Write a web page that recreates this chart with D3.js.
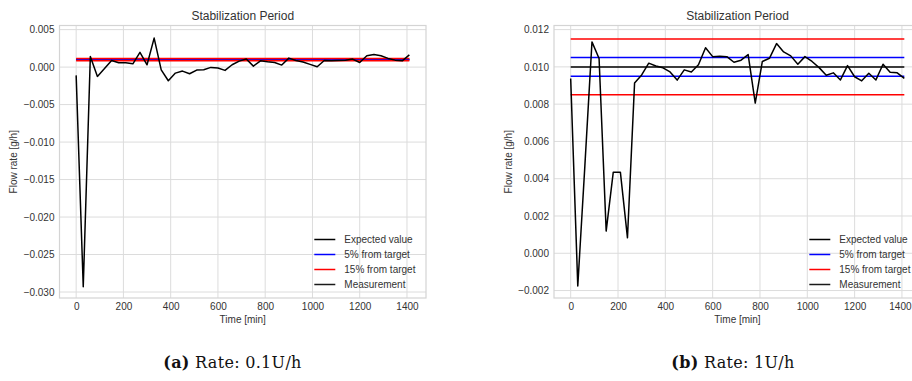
<!DOCTYPE html>
<html>
<head>
<meta charset="utf-8">
<script src="https://cdn.jsdelivr.net/npm/d3@7"></script>
<style>
  html, body { margin: 0; padding: 0; background: #ffffff; }
  svg { display: block; }
</style>
</head>
<body>
<svg id="fig" width="912" height="381"></svg>
<script>
// Sampling times (minutes), every 30 min over the stabilization run
const times = d3.range(0, 1411, 30);

// Measured flow rate [g/h] at 0.1 U/h
const measurementA = [
  -0.0011, -0.0293, 0.00142, -0.00124, -0.0002, 0.00089, 0.00058, 0.00058,
  0.00044, 0.00196, 0.00031, 0.00387, -0.00036, -0.00182, -0.0008, -0.00053,
  -0.00089, -0.0004, -0.00036, -0.00004, -0.00013, -0.00044, 0.00031, 0.0008,
  0.00107, 0.00013, 0.00084, 0.00071, 0.00062, 0.00027, 0.0012, 0.00089,
  0.00067, 0.00036, 0.00004, 0.00089, 0.00084, 0.00089, 0.00093, 0.00107,
  0.00062, 0.00151, 0.00169, 0.00151, 0.00116, 0.00093, 0.00084, 0.00164
];

// Measured flow rate [g/h] at 1 U/h
const measurementB = [
  0.00938, -0.00175, 0.0047, 0.01134, 0.01045, 0.00119, 0.00435, 0.00435,
  0.00083, 0.00913, 0.00957, 0.0102, 0.01005, 0.00995, 0.00973, 0.00929,
  0.00984, 0.00973, 0.01011, 0.01103, 0.01055, 0.01057, 0.01055, 0.01025,
  0.01036, 0.01066, 0.00806, 0.01029, 0.01046, 0.01125, 0.0108, 0.01059,
  0.01014, 0.01055, 0.01029, 0.00996, 0.00955, 0.00968, 0.0093, 0.01007,
  0.00947, 0.00925, 0.00966, 0.0093, 0.01014, 0.00971, 0.00968, 0.00938
];

// Expected (target) flow rates [g/h]
const targetA = 0.001;
const targetB = 0.01;

// Axis ticks
const xTicks = [0, 200, 400, 600, 800, 1000, 1200, 1400];
const yTicksA = [-0.030, -0.025, -0.020, -0.015, -0.010, -0.005, 0.000, 0.005];
const yTicksB = [-0.002, 0.000, 0.002, 0.004, 0.006, 0.008, 0.010, 0.012];

// Legend entries
const legendLabels = ["Expected value", "5% from target", "15% from target", "Measurement"];
const legendColors = ["#000000", "#0000ff", "#ff0000", "#1a1a1a"];

const captions = [
  { tag: "(a)", text: " Rate: 0.1U/h" },
  { tag: "(b)", text: " Rate: 1U/h" }
];

const svg = d3.select("#fig");
const W = +svg.attr("width");
const FONT = "'Liberation Sans', Arial, sans-serif";
const TEXT = "#333333";
const GRID = "#dcdcdc";

function drawPanel(opt) {
  const { left, right, top, bottom, xDomain, yDomain, yTicks, values, target } = opt;
  const g = svg.append("g");

  const x = d3.scaleLinear().domain(xDomain).range([left, right]);
  const y = d3.scaleLinear().domain(yDomain).range([bottom, top]);

  const clipId = "clip" + Math.round(left);
  g.append("clipPath").attr("id", clipId)
    .append("rect").attr("x", left).attr("y", top)
    .attr("width", right - left).attr("height", bottom - top);

  // grid
  g.append("g").selectAll("line").data(xTicks).join("line")
    .attr("x1", d => x(d)).attr("x2", d => x(d))
    .attr("y1", top).attr("y2", bottom)
    .attr("stroke", GRID).attr("stroke-width", 1);
  g.append("g").selectAll("line").data(yTicks).join("line")
    .attr("x1", left).attr("x2", right)
    .attr("y1", d => y(d)).attr("y2", d => y(d))
    .attr("stroke", GRID).attr("stroke-width", 1);

  // frame
  g.append("rect").attr("x", left).attr("y", top)
    .attr("width", right - left).attr("height", bottom - top)
    .attr("fill", "none").attr("stroke", "#d4d4d4").attr("stroke-width", 1.2);

  // axes (labels only; tick lines hidden)
  const xAxis = d3.axisBottom(x).tickValues(xTicks).tickSize(0).tickPadding(5)
    .tickFormat(d3.format("d"));
  const yAxis = d3.axisLeft(y).tickValues(yTicks).tickSize(0).tickPadding(5)
    .tickFormat(d3.format(".3f"));

  const gx = g.append("g").attr("transform", `translate(0,${bottom})`).call(xAxis);
  const gy = g.append("g").attr("transform", `translate(${left},0)`).call(yAxis);
  [gx, gy].forEach(a => {
    a.select(".domain").remove();
    a.selectAll("text").attr("font-family", FONT).attr("font-size", 10).attr("fill", TEXT);
  });

  // keep tick labels inside the figure edge
  gx.selectAll(".tick").each(function (d) {
    const txt = d3.select(this).select("text");
    const w = txt.node().getComputedTextLength();
    const over = x(d) + w / 2 - (W - 1);
    if (over > 0) txt.attr("x", -over);
  });

  const plot = g.append("g").attr("clip-path", `url(#${clipId})`);
  const t0 = times[0], t1 = times[times.length - 1];
  const hline = (v, color) => plot.append("line")
    .attr("x1", x(t0)).attr("x2", x(t1))
    .attr("y1", y(v)).attr("y2", y(v))
    .attr("stroke", color).attr("stroke-width", 1.5);

  hline(target, "#000000");
  hline(target * 1.05, "#0000ff");
  hline(target * 0.95, "#0000ff");
  hline(target * 1.15, "#ff0000");
  hline(target * 0.85, "#ff0000");

  const line = d3.line().x((d, i) => x(times[i])).y(d => y(d));
  plot.append("path").datum(values)
    .attr("d", line).attr("fill", "none")
    .attr("stroke", "#000000").attr("stroke-width", 1.5)
    .attr("stroke-linejoin", "round");

  // title & axis labels
  const cx = (left + right) / 2;
  g.append("text").attr("x", cx).attr("y", top - 6)
    .attr("text-anchor", "middle").attr("font-family", FONT)
    .attr("font-size", 12).attr("fill", TEXT).text("Stabilization Period");
  g.append("text").attr("x", cx).attr("y", bottom + 25)
    .attr("text-anchor", "middle").attr("font-family", FONT)
    .attr("font-size", 10).attr("fill", TEXT).text("Time [min]");
  g.append("text")
    .attr("transform", `translate(${opt.yLabelX},${(top + bottom) / 2}) rotate(-90)`)
    .attr("text-anchor", "middle").attr("font-family", FONT)
    .attr("font-size", 10).attr("fill", TEXT).text("Flow rate [g/h]");

  // legend
  const lx = right - 111.7;
  const leg = g.append("g").selectAll("g").data(legendLabels).join("g")
    .attr("transform", (d, i) => `translate(${lx},${239.5 + i * 15})`);
  leg.append("line").attr("x1", 0).attr("x2", 21).attr("y1", 0).attr("y2", 0)
    .attr("stroke", (d, i) => legendColors[i]).attr("stroke-width", 1.5);
  leg.append("text").attr("x", 30).attr("y", 3.5)
    .attr("font-family", FONT).attr("font-size", 10).attr("fill", TEXT)
    .text(d => d);
}

drawPanel({
  left: 59.5, right: 426, top: 25.5, bottom: 298,
  xDomain: [-70.5, 1480.5], yDomain: [-0.0308, 0.00555],
  yTicks: yTicksA, values: measurementA, target: targetA, yLabelX: 17
});

drawPanel({
  left: 554, right: 921, top: 25.5, bottom: 298,
  xDomain: [-70.5, 1480.5], yDomain: [-0.0024, 0.01222],
  yTicks: yTicksB, values: measurementB, target: targetB, yLabelX: 512
});

// sub-figure captions
const capX = [232.5, 733];
captions.forEach((c, i) => {
  const t = svg.append("text").attr("x", capX[i]).attr("y", 368)
    .attr("text-anchor", "middle")
    .attr("font-family", "'DejaVu Serif', serif")
    .attr("font-size", 16).attr("letter-spacing", 0.3).attr("fill", "#111111");
  t.append("tspan").attr("font-weight", "bold").text(c.tag);
  t.append("tspan").text(c.text);
});
</script>
</body>
</html>
